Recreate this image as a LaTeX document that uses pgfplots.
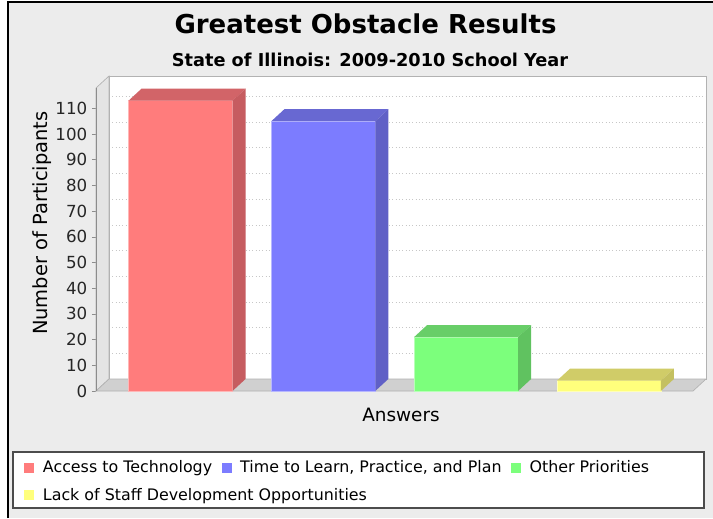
\documentclass[border=0pt]{standalone}
\usepackage{fontspec}
\setmainfont{DejaVu Sans}
\usepackage{pgfplots}
\pgfplotsset{compat=1.18}
\definecolor{bg}{RGB}{236,236,236}
\definecolor{redF}{RGB}{255,124,124}
\definecolor{redT}{RGB}{210,100,104}
\definecolor{redS}{RGB}{198,92,96}
\definecolor{bluF}{RGB}{124,124,255}
\definecolor{bluT}{RGB}{104,104,210}
\definecolor{bluS}{RGB}{96,96,198}
\definecolor{grnF}{RGB}{124,255,124}
\definecolor{grnT}{RGB}{104,206,104}
\definecolor{grnS}{RGB}{96,194,96}
\definecolor{yelF}{RGB}{255,255,124}
\definecolor{yelT}{RGB}{208,204,104}
\definecolor{yelS}{RGB}{196,192,96}
\definecolor{floorc}{RGB}{208,208,208}
\definecolor{wallc}{RGB}{228,228,228}
\pgfplotsset{mylegend/.style={legend image code/.code={\path[##1,draw=none] (0pt,-3.75pt) rectangle (7.5pt,3.75pt);}}}
\begin{document}
\begin{tikzpicture}
\begin{scope}[x=0.75pt,y=-0.75pt]
\path[use as bounding box] (0,0) rectangle (713,518);
\fill[white] (0,0) rectangle (713,518);
\fill[bg] (8,2) rectangle (713,518);
\draw[black,line width=1.5pt] (8,518) -- (8,1.5) -- (713,1.5);
\node[font=\fontsize{19.5}{22}\selectfont\bfseries, anchor=base, inner sep=0pt] at (365.5,33) {Greatest Obstacle Results};
\node[font=\fontsize{13.3}{16}\selectfont\bfseries, anchor=base, inner sep=0pt] at (370,66) {State of Illinois: 2009-2010 School Year};
\filldraw[fill=white, draw=black!70, line width=0.9pt] (13,452) rectangle (704,508);
\end{scope}
\begin{axis}[
  at={(72pt,-293.25pt)}, anchor=south west,
  scale only axis, width=457.5pt, height=236.25pt,
  xmin=-0.592, xmax=3.68, ymin=0, ymax=122.6,
  clip=false,
  axis line style={draw=none},
  xtick=\empty,
  ytick={0,10,...,110},
  ytick pos=left, tick align=outside, major tick length=3pt,
  ytick style={draw=black!45, line width=0.5pt},
  yticklabel style={font=\fontsize{12.5}{14}\selectfont, text=black!85},
  /pgf/number format/assume math mode=true,
  xlabel={Answers}, ylabel={Number of Participants},
  xlabel style={font=\fontsize{13.8}{16}\selectfont, at={(axis description cs:0.5,0)}, anchor=base, yshift=-22.5pt},
  ylabel style={font=\fontsize{14.6}{16}\selectfont, at={(axis description cs:-0.0885,0.533)}, anchor=center},
  legend columns=3,
  legend cell align=left,
  legend style={at={(axis description cs:-0.118,-0.216)}, anchor=north west, draw=none, fill=none, inner sep=0pt,
    font=\fontsize{11.9}{13}\selectfont, row sep=8.25pt,
    /tikz/every odd column/.append style={column sep=5.5pt},
    /tikz/every even column/.append style={column sep=6pt},
    nodes={inner sep=1pt}},
]
% back wall, gridlines, left wall, floor
\fill[white] (-0.501,4.67) rectangle (3.68,122.6);
\draw[black!22, dotted, line width=0.5pt] (-0.501,14.67) -- (3.68,14.67);
\draw[black!22, dotted, line width=0.5pt] (-0.501,24.67) -- (3.68,24.67);
\draw[black!22, dotted, line width=0.5pt] (-0.501,34.67) -- (3.68,34.67);
\draw[black!22, dotted, line width=0.5pt] (-0.501,44.67) -- (3.68,44.67);
\draw[black!22, dotted, line width=0.5pt] (-0.501,54.67) -- (3.68,54.67);
\draw[black!22, dotted, line width=0.5pt] (-0.501,64.67) -- (3.68,64.67);
\draw[black!22, dotted, line width=0.5pt] (-0.501,74.67) -- (3.68,74.67);
\draw[black!22, dotted, line width=0.5pt] (-0.501,84.67) -- (3.68,84.67);
\draw[black!22, dotted, line width=0.5pt] (-0.501,94.67) -- (3.68,94.67);
\draw[black!22, dotted, line width=0.5pt] (-0.501,104.67) -- (3.68,104.67);
\draw[black!22, dotted, line width=0.5pt] (-0.501,114.67) -- (3.68,114.67);
\draw[black!30, line width=0.5pt] (-0.501,4.67) rectangle (3.68,122.6);
\filldraw[fill=wallc, draw=black!30, line width=0.5pt] (-0.592,0) -- (-0.501,4.67) -- (-0.501,122.6) -- (-0.592,117.93) -- cycle;
\filldraw[fill=floorc, draw=black!30, line width=0.5pt] (-0.592,0) -- (3.589,0) -- (3.68,4.67) -- (-0.501,4.67) -- cycle;
\draw[black!45, line width=0.5pt] (-0.592,0) -- (-0.592,117.93);
% bars
\addplot[ybar, mylegend, bar width=0.728, bar shift=0pt, fill=redF, draw=redF!55!white, line width=0.5pt] coordinates {(0,113)};
\addlegendentry{Access to Technology}
\fill[redT] (-0.364,113) -- (-0.273,117.67) -- (0.455,117.67) -- (0.364,113) -- cycle;
\fill[redS] (0.364,0) -- (0.455,4.67) -- (0.455,117.67) -- (0.364,113) -- cycle;
\addplot[ybar, mylegend, bar width=0.728, bar shift=0pt, fill=bluF, draw=bluF!55!white, line width=0.5pt] coordinates {(1,105)};
\addlegendentry{Time to Learn, Practice, and Plan}
\fill[bluT] (0.636,105) -- (0.727,109.67) -- (1.455,109.67) -- (1.364,105) -- cycle;
\fill[bluS] (1.364,0) -- (1.455,4.67) -- (1.455,109.67) -- (1.364,105) -- cycle;
\addplot[ybar, mylegend, bar width=0.728, bar shift=0pt, fill=grnF, draw=grnF!55!white, line width=0.5pt] coordinates {(2,21)};
\addlegendentry{Other Priorities}
\fill[grnT] (1.636,21) -- (1.727,25.67) -- (2.455,25.67) -- (2.364,21) -- cycle;
\fill[grnS] (2.364,0) -- (2.455,4.67) -- (2.455,25.67) -- (2.364,21) -- cycle;
\addplot[ybar, mylegend, bar width=0.728, bar shift=0pt, fill=yelF, draw=yelF!55!white, line width=0.5pt] coordinates {(3,4)};
\addlegendentry{\makebox[0pt][l]{Lack of Staff Development Opportunities}}
\fill[yelT] (2.636,4) -- (2.727,8.67) -- (3.455,8.67) -- (3.364,4) -- cycle;
\fill[yelS] (3.364,0) -- (3.455,4.67) -- (3.455,8.67) -- (3.364,4) -- cycle;
\end{axis}
\end{tikzpicture}
\end{document}
